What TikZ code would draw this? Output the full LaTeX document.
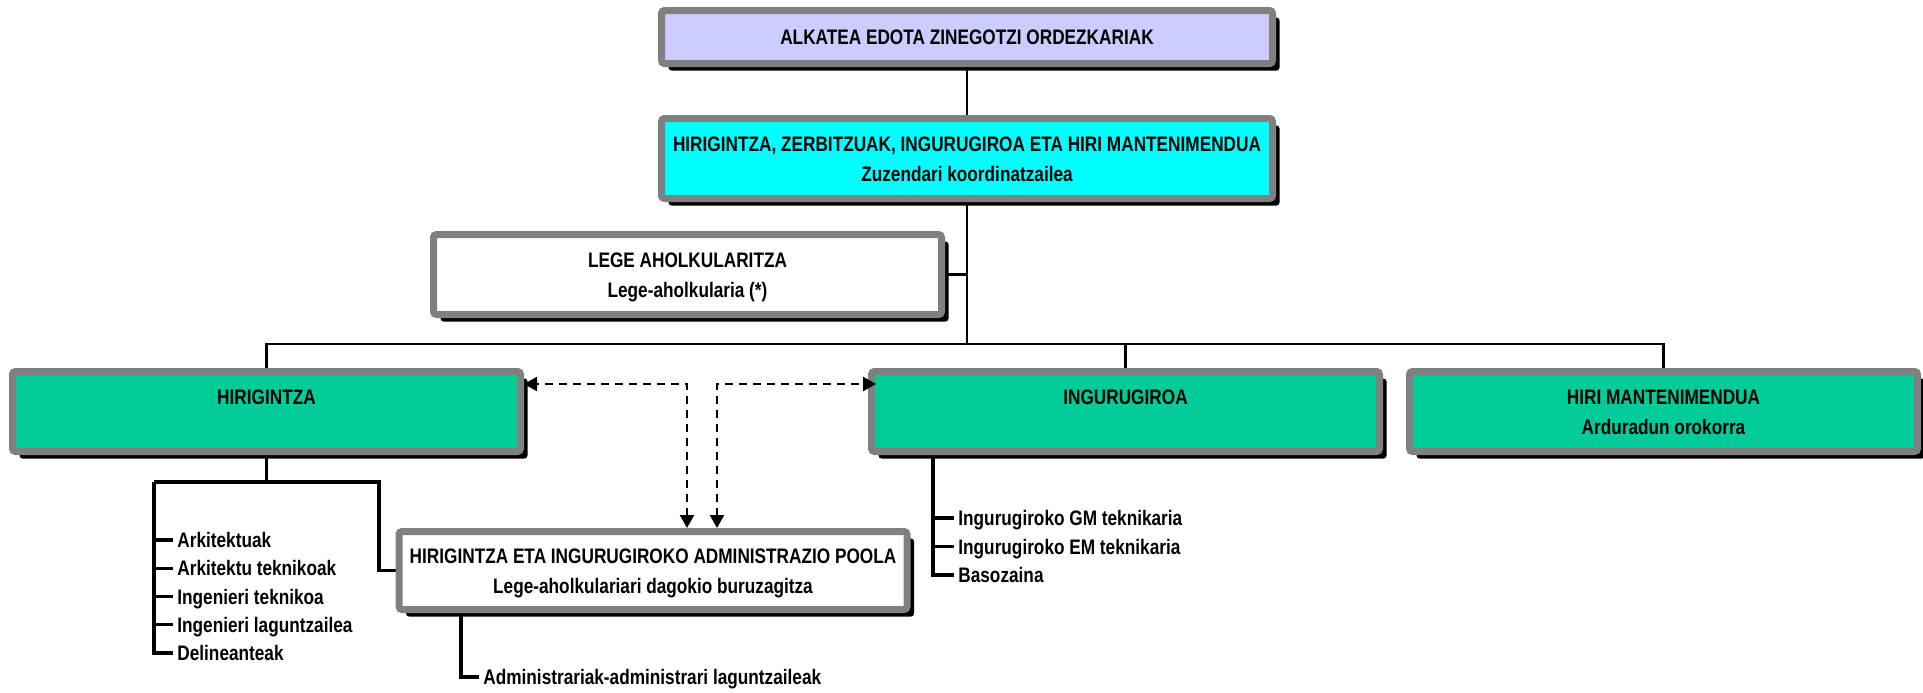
\documentclass[tikz,border=0pt]{standalone}
\usepackage{fontspec}
\setmainfont{Liberation Sans}[FakeStretch=0.82]
\usetikzlibrary{arrows.meta,shadows,backgrounds}
\definecolor{lila}{HTML}{CCCCFF}
\definecolor{ziano}{HTML}{00FFFF}
\definecolor{berde}{HTML}{00CC99}
\definecolor{ertz}{HTML}{808080}
\begin{document}
\begin{tikzpicture}[>={Triangle[length=6.5pt,width=7pt]},font=\bfseries\fontsize{10.5}{15}\selectfont,x=.5pt,y=-.5pt,
 box/.style={draw=ertz,line width=3.5pt,rounded corners=1.5pt,inner sep=0pt,align=center,minimum width=254pt,minimum height=40pt,text height=7.6pt,text depth=0pt,drop shadow={shadow xshift=3.5pt,shadow yshift=-3.5pt,fill=black,opacity=1}},
 wide/.style={box,minimum width=305.5pt},
 two/.style={text height=22.6pt,text depth=0pt},
 half/.style={text depth=15pt},
 item/.style={anchor=west,inner xsep=2pt,inner ysep=0pt,text height=7.6pt,text depth=0pt},
 link/.style={line width=1.3pt},
 lst/.style={line width=1.6pt},
 dsh/.style={line width=1.1pt,dash pattern=on 4pt off 3pt,<->}]
 \useasboundingbox (0,0) rectangle (1923,692);
 \node[wide,fill=lila,minimum height=26.5pt] (alk) at (967,37) {ALKATEA EDOTA ZINEGOTZI ORDEZKARIAK};
 \node[wide,two,fill=ziano] (zuz) at (967,158.5) {HIRIGINTZA, ZERBITZUAK, INGURUGIROA ETA HIRI MANTENIMENDUA\\Zuzendari koordinatzailea};
 \node[box,two,fill=white] (leg) at (687.5,274.5) {LEGE AHOLKULARITZA\\Lege-aholkularia (*)};
 \node[box,half,fill=berde] (hir) at (266.5,411.5) {HIRIGINTZA};
 \node[box,half,fill=berde] (ing) at (1125.5,411.5) {INGURUGIROA};
 \node[box,two,fill=berde] (hm) at (1663.5,411.5) {HIRI MANTENIMENDUA\\Arduradun orokorra};
 \node[box,two,fill=white,minimum height=39pt] (pool) at (653,570.5) {HIRIGINTZA ETA INGURUGIROKO ADMINISTRAZIO POOLA\\Lege-aholkulariari dagokio buruzagitza};
 \foreach \lbl [count=\i] in {Arkitektuak,Arkitektu teknikoak,Ingenieri teknikoa,Ingenieri laguntzailea,Delineanteak}
  \node[item] (h\i) at (173,{540+28.25*(\i-1)}) {\lbl};
 \foreach \lbl [count=\i] in {Ingurugiroko GM teknikaria,Ingurugiroko EM teknikaria,Basozaina}
  \node[item] (g\i) at (954,{518+28.5*(\i-1)}) {\lbl};
 \node[item] (adm) at (479,677) {Administrariak-administrari laguntzaileak};
 \coordinate (bus) at (0,344);
 \coordinate (hl) at (154,482);
 \coordinate (hr) at (379,482);
 \coordinate (gl) at (933,0);
 \coordinate (pl) at (461,0);
 \coordinate (dl) at (687,384);
 \coordinate (dr) at (717,384);
 \begin{scope}[on background layer]
 \draw[link] (alk) -- (zuz) -- (zuz |- bus);
 \draw[link] (leg) -- (leg -| zuz);
 \draw[link] (hir) |- (hm |- bus) -- (hm);
 \draw[link] (ing) -- (ing |- bus);
 \draw[lst] (hir) -- (hir |- hl);
 \draw[lst] (hl) -- (hr) |- (pool);
 \draw[lst] (hl) |- (h5.west);
 \foreach \i in {1,...,4} \draw[lst] (hl |- h\i.west) -- (h\i.west);
 \draw[lst] (ing.south -| gl) |- (g3.west);
 \foreach \i in {1,2} \draw[lst] (gl |- g\i.west) -- (g\i.west);
 \draw[lst] (pool.south -| pl) |- (adm.west);
 \end{scope}
 \draw[dsh] (pool.north -| dl) |- (hir.east |- dl);
 \draw[dsh,shorten >=-4pt] (pool.north -| dr) |- (ing.west |- dr);
\end{tikzpicture}
\end{document}
